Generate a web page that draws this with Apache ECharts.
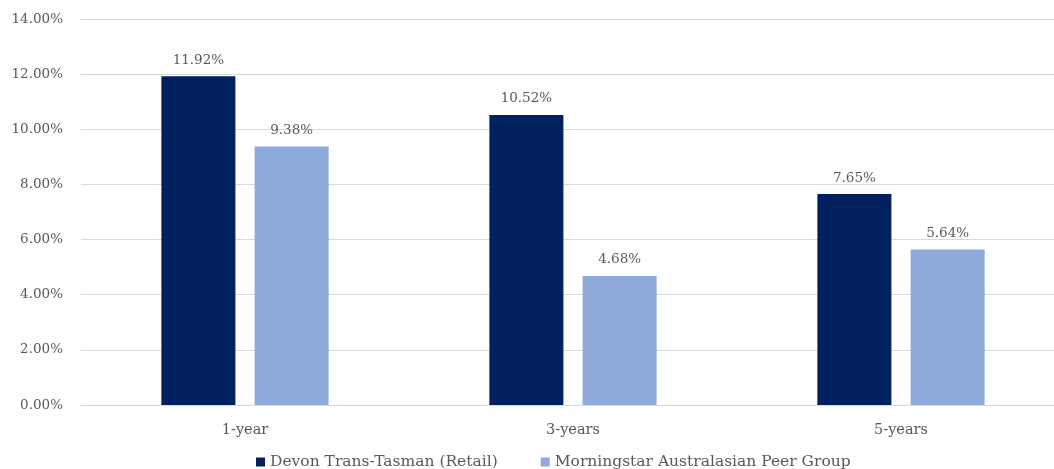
<!DOCTYPE html>
<html><head><meta charset="utf-8">
<script src="https://cdn.jsdelivr.net/npm/echarts@6/dist/echarts.min.js"></script>
<style>html,body{margin:0;padding:0;background:#fff}#c{width:1054px;height:469px}</style>
</head><body><div id="c"></div>
<script>
var categories = ['1-year', '3-years', '5-years'];
var seriesNames = ['Devon Trans-Tasman (Retail)', 'Morningstar Australasian Peer Group'];
var devonValues = [11.92, 10.52, 7.65];
var peerValues = [9.38, 4.68, 5.64];
var yTicks = [0, 2, 4, 6, 8, 10, 12, 14];

var FONT = 'DejaVu Serif';
var TXT = '#595959';
var chart = echarts.init(document.getElementById('c'), null, {renderer: 'canvas'});
function pct(v){ return v.toFixed(2) + '%'; }
var labelStyle = {show: true, position: 'top', distance: 9, fontFamily: FONT, fontSize: 13.5, color: TXT,
  formatter: function(p){ return pct(p.value); }};
chart.setOption({
  animation: false,
  textStyle: {fontFamily: FONT},
  grid: {left: 81, width: 984, top: 19, bottom: 64, outerBoundsMode: 'none'},
  legend: {
    bottom: -6, left: 251, itemWidth: 9, itemHeight: 9, itemGap: 43,
    icon: 'rect',
    textStyle: {fontFamily: FONT, fontSize: 15.5, color: TXT},
    data: seriesNames
  },
  xAxis: {
    type: 'category', data: categories,
    axisLine: {lineStyle: {color: '#d9d9d9', width: 1}},
    axisTick: {show: false},
    axisLabel: {fontFamily: FONT, fontSize: 14.5, color: TXT, margin: 18}
  },
  yAxis: {
    type: 'value', min: yTicks[0], max: yTicks[yTicks.length - 1], interval: 2,
    axisLine: {show: false}, axisTick: {show: false},
    splitLine: {lineStyle: {color: '#d9d9d9', width: 1}},
    axisLabel: {fontFamily: FONT, fontSize: 13.5, color: TXT, margin: 18, formatter: function(v){ return pct(v); }}
  },
  series: [
    {name: seriesNames[0], type: 'bar', data: devonValues, barWidth: 74, barGap: '26%',
     itemStyle: {color: '#002060'}, label: labelStyle},
    {name: seriesNames[1], type: 'bar', data: peerValues, barWidth: 74,
     itemStyle: {color: '#8eaadb'}, label: labelStyle}
  ]
});
</script></body></html>
